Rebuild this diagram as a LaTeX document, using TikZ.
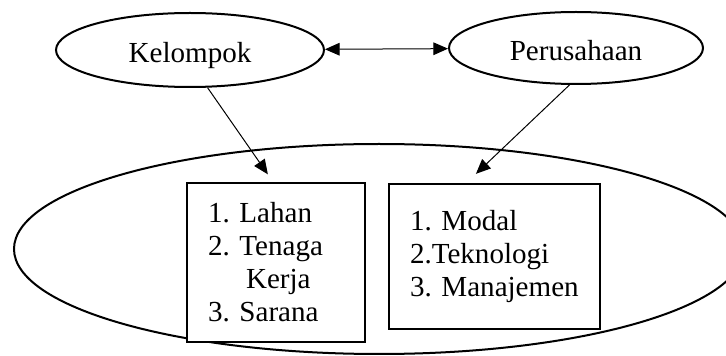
\documentclass[tikz,border=0pt]{standalone}
\usepackage{fontspec}
\setmainfont{Liberation Serif}
\usetikzlibrary{arrows.meta,shapes.geometric}

\tikzset{
  teks/.style={font=\fontsize{21.8pt}{24.8pt}\selectfont\frenchspacing},
  elips/.style={ellipse, draw, line width=1.5pt, inner sep=0pt, teks, text height=19.5pt, text depth=0pt},
  kotak/.style={draw, line width=1.5pt, fill=white, align=left, teks, inner xsep=15.75pt, inner ysep=0pt},
  panah/.style={line width=0.75pt, -{Triangle[length=11pt,width=9.5pt]}},
  panahdua/.style={line width=0.75pt, {Triangle[length=11pt,width=9.5pt]}-{Triangle[length=11pt,width=9.5pt]}}
}

\begin{document}
\begin{tikzpicture}[x=0.75pt,y=0.75pt,yscale=-1,xscale=1]
\clip (0,0) rectangle (726,356); %picture is 726 x 356

%Ellipse [usaha]
\node [ellipse, draw, line width=1.5pt, minimum width=547.5pt, minimum height=157.5pt] (usaha) at (379,249) {};

%Ellipse [kelompok]
\node [elips, minimum width=201pt, minimum height=55.5pt] (kelompok) at (190,50) {Kelompok};
%Ellipse [perusahaan]
\node [elips, minimum width=190.5pt, minimum height=54pt] (perusahaan) at (576,48) {Perusahaan};

%Rectangle [box1]
\node [kotak, text width=102pt, minimum height=119.25pt] (box1) at (276,262.5) {1. Lahan\\2. Tenaga\\\hspace*{1.31em}Kerja\\3. Sarana};
%Rectangle [box2]
\node [kotak, text width=126.75pt, minimum height=108.75pt] (box2) at (494.5,256.5) {1. Modal\\2.Teknologi\\3. Manajemen};

%Straight Lines
\draw [panahdua] (kelompok) -- (perusahaan);
%Straight Lines
\draw [panah, shorten >=7pt] (kelompok.-65) -- (box1.92);
%Straight Lines
\draw [panah, shorten >=10pt] (perusahaan.-100) -- (box2.111);

\end{tikzpicture}
\end{document}
